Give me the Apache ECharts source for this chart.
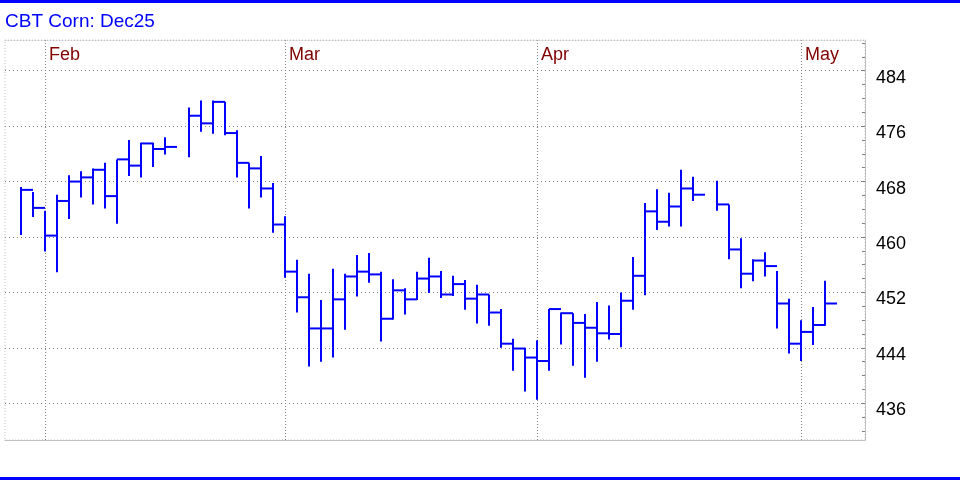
<!DOCTYPE html>
<html>
<head>
<meta charset="utf-8">
<script src="https://cdn.jsdelivr.net/npm/echarts@6/dist/echarts.min.js"></script>
<style>
html,body{margin:0;padding:0;background:#fff;}
#chart{width:960px;height:480px;}
</style>
</head>
<body>
<div id="chart"></div>
<script>
// Trading-day slots (weekdays; holidays have null values)
const dates = [
  '2025-01-29','2025-01-30','2025-01-31',
  '2025-02-03','2025-02-04','2025-02-05','2025-02-06','2025-02-07',
  '2025-02-10','2025-02-11','2025-02-12','2025-02-13','2025-02-14',
  '2025-02-17','2025-02-18','2025-02-19','2025-02-20','2025-02-21',
  '2025-02-24','2025-02-25','2025-02-26','2025-02-27','2025-02-28',
  '2025-03-03','2025-03-04','2025-03-05','2025-03-06','2025-03-07',
  '2025-03-10','2025-03-11','2025-03-12','2025-03-13','2025-03-14',
  '2025-03-17','2025-03-18','2025-03-19','2025-03-20','2025-03-21',
  '2025-03-24','2025-03-25','2025-03-26','2025-03-27','2025-03-28',
  '2025-03-31',
  '2025-04-01','2025-04-02','2025-04-03','2025-04-04',
  '2025-04-07','2025-04-08','2025-04-09','2025-04-10','2025-04-11',
  '2025-04-14','2025-04-15','2025-04-16','2025-04-17','2025-04-18',
  '2025-04-21','2025-04-22','2025-04-23','2025-04-24','2025-04-25',
  '2025-04-28','2025-04-29','2025-04-30',
  '2025-05-01','2025-05-02'
];

const highs = [
  467.2, 466.5, 463.8, 466.1, 468.9, 469.5, 469.9, 470.7, 471.2, 474.0,
  473.6, 473.6, 474.4, null, 478.7, 479.7, 479.7, 479.5, 475.4, 470.7,
  471.7, 467.8, 463.0, 456.7, 454.7, 450.9, 455.4, 454.7, 457.4, 457.7,
  455.0, 453.9, 452.6, 455.0, 457.0, 455.1, 454.4, 453.8, 453.1, 451.7,
  449.6, 445.3, 444.0, 445.1, 449.6, 449.1, 449.0, 448.9, 450.6, 450.1,
  452.0, 457.1, 464.9, 466.9, 466.4, 469.7, 468.7, null, 468.1, 464.7,
  459.8, 456.8, 457.8, 455.1, 451.1, 448.0, 449.9, 453.7
];

const lows = [
  460.3, 462.9, 457.9, 454.9, 462.6, 465.7, 464.7, 464.1, 461.9, 468.8,
  468.6, 470.1, 471.9, null, 471.5, 475.2, 474.9, 474.7, 468.6, 464.1,
  465.7, 460.6, 454.1, 449.1, 441.3, 442.0, 442.6, 446.6, 451.4, 453.4,
  444.9, 448.1, 448.8, 450.9, 451.9, 451.2, 451.5, 449.5, 447.5, 447.2,
  444.0, 440.7, 437.7, 436.5, 440.7, 444.5, 441.4, 439.7, 442.0, 445.2,
  444.1, 449.5, 451.6, 461.0, 461.5, 461.5, 465.2, null, 463.8, 456.8,
  452.6, 453.6, 454.3, 446.8, 443.2, 442.1, 444.4, 447.2
];

const closes = [
  466.8, 464.2, 460.2, 465.2, 468.0, 468.6, 469.7, 465.9, 471.2, 470.3,
  473.5, 472.7, 473.0, null, 477.5, 476.4, 479.5, 475.0, 470.7, 469.9,
  467.0, 461.8, 455.0, 451.3, 446.8, 446.8, 451.0, 454.3, 455.0, 454.6,
  448.2, 452.3, 451.0, 454.0, 454.3, 451.7, 453.2, 451.1, 451.7, 449.1,
  444.6, 443.9, 442.6, 442.1, 449.6, 449.0, 447.6, 446.9, 446.1, 446.0,
  450.8, 454.4, 463.7, 462.2, 464.4, 467.0, 466.1, null, 464.7, 458.2,
  454.7, 456.6, 455.8, 450.4, 444.6, 446.3, 447.3, 450.4
];

const yTicks = [436, 444, 452, 460, 468, 476, 484];
const yMinorTicks = [432,434,436,438,440,442,444,446,448,450,452,454,456,458,460,462,464,466,468,470,472,474,476,478,480,482,484,486,488];
const monthNames = ['Jan','Feb','Mar','Apr','May','Jun','Jul','Aug','Sep','Oct','Nov','Dec'];
const titleText = 'CBT Corn: Dec25';

// Month separators: at the last slot of each month, labelled with the next month
const monthIdx = [];
const monthLabel = {};
for (let i = 0; i < dates.length - 1; i++) {
  const m0 = +dates[i].slice(5, 7), m1 = +dates[i + 1].slice(5, 7);
  if (m0 !== m1) { monthIdx.push(i); monthLabel[i] = monthNames[m1 - 1]; }
}

const ohlc = [];
for (let i = 0; i < dates.length; i++) {
  if (highs[i] == null) continue;
  ohlc.push([i, highs[i], lows[i], closes[i]]);
}

const FONT = '"Liberation Sans", Arial, sans-serif';
const xMin = -16 / 12, xMax = 844 / 12;
const yMin = 430.70, yMax = 488.43;

function renderItem(params, api) {
  const x = api.value(0);
  const hi = api.coord([x, api.value(1)]);
  const lo = api.coord([x, api.value(2)]);
  const cl = api.coord([x, api.value(3)]);
  const w = api.size([1, 0])[0];
  const st = { stroke: '#0000ff', lineWidth: 2 };
  return {
    type: 'group',
    children: [
      { type: 'line', shape: { x1: hi[0], y1: hi[1], x2: lo[0], y2: lo[1] }, style: st },
      { type: 'line', shape: { x1: cl[0], y1: cl[1], x2: cl[0] + w, y2: cl[1] }, style: st }
    ]
  };
}

const chart = echarts.init(document.getElementById('chart'), null, { renderer: 'canvas' });
chart.setOption({
  animation: false,
  backgroundColor: '#ffffff',
  title: {
    text: titleText, left: 5, top: 12, padding: 0,
    textStyle: { color: '#0000ff', fontSize: 19, fontWeight: 'normal', fontFamily: FONT }
  },
  graphic: [
    { type: 'rect', left: 0, top: 0, shape: { width: 960, height: 3 }, style: { fill: '#0000ff' } },
    { type: 'rect', left: 0, top: 477, shape: { width: 960, height: 3 }, style: { fill: '#0000ff' } }
  ],
  grid: {
    left: 5, top: 40, width: 860, height: 400,
    show: true, borderColor: '#c0c0c0', borderWidth: 1, borderType: [1, 2]
  },
  xAxis: [
    {
      type: 'value', min: xMin, max: xMax, position: 'bottom',
      axisLine: { show: true, onZero: false, lineStyle: { color: '#c0c0c0', width: 1 } },
      axisTick: { show: false }, axisLabel: { show: false }, splitLine: { show: false }
    },
    {
      type: 'value', min: xMin, max: xMax, position: 'top',
      axisLine: { show: true, onZero: false, lineStyle: { color: '#c0c0c0', width: 1, type: [1, 2] } },
      axisTick: { show: false, customValues: monthIdx },
      axisLabel: {
        show: true, customValues: monthIdx, inside: true, margin: 6,
        align: 'left', verticalAlign: 'top', padding: [0, 0, 0, 4],
        color: '#800000', fontSize: 18, fontFamily: FONT,
        formatter: v => monthLabel[Math.round(v)] || ''
      },
      splitLine: { show: true, lineStyle: { color: '#808080', width: 1, type: [1, 2] } }
    }
  ],
  yAxis: [
    {
      type: 'value', min: yMin, max: yMax, position: 'right',
      axisLine: { show: true, onZero: false, lineStyle: { color: '#c0c0c0', width: 1 } },
      axisTick: { show: false, customValues: yTicks },
      axisLabel: {
        show: true, customValues: yTicks, margin: 11, color: '#000000',
        fontSize: 18, fontFamily: FONT, verticalAlign: 'top', lineHeight: 14
      },
      splitLine: { show: true, lineStyle: { color: '#808080', width: 1, type: [1, 3] } }
    },
    {
      type: 'value', min: yMin, max: yMax, position: 'right',
      axisLine: { show: false, onZero: false },
      axisTick: { show: true, inside: true, length: 3, customValues: yMinorTicks, lineStyle: { color: '#808080' } },
      axisLabel: { show: false },
      splitLine: { show: false }
    }
  ],
  series: [
    {
      type: 'custom', name: 'CBT Corn: Dec25',
      xAxisIndex: 0, yAxisIndex: 0,
      renderItem: renderItem,
      encode: { x: 0, y: [1, 2, 3] },
      data: ohlc,
      clip: false
    }
  ]
});
</script>
</body>
</html>
